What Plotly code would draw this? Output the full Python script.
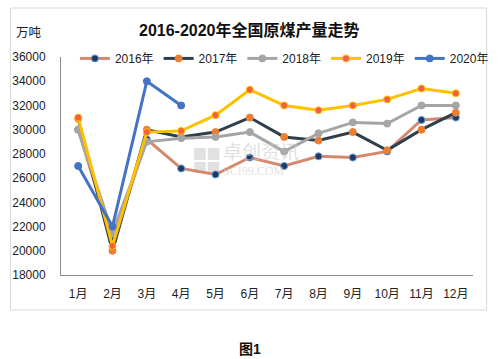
import plotly.graph_objects as go

months = ["1月", "2月", "3月", "4月", "5月", "6月", "7月", "8月", "9月", "10月", "11月", "12月"]
y2016 = [30000, 20800, 29200, 26800, 26300, 27700, 27000, 27800, 27700, 28200, 30800, 31000]
y2017 = [30900, 20000, 30000, 29400, 29800, 31000, 29400, 29100, 29800, 28300, 30000, 31400]
y2018 = [30000, 21500, 29000, 29300, 29400, 29800, 28200, 29700, 30600, 30500, 32000, 32000]
y2019 = [31000, 20400, 29800, 29900, 31200, 33300, 32000, 31600, 32000, 32500, 33400, 33000]
y2020 = [27000, 22000, 34000, 32000]

font_family = "Liberation Sans, Noto Sans CJK SC, sans-serif"

series = [
    ("2016年", y2016, "#D4896E", "#203864", "#5B9BD5"),
    ("2017年", y2017, "#2F3F4C", "#ED7D31", "#ED7D31"),
    ("2018年", y2018, "#A5A5A5", "#A5A5A5", "#A5A5A5"),
    ("2019年", y2019, "#FFC000", "#F4603C", "#FFC000"),
    ("2020年", y2020, "#4472C4", "#4472C4", "#4472C4"),
]

L, R, T, B = 58, 482, 57, 275
PW, PH = R - L, B - T


def px(x):
    return (x - L) / PW


def py(y):
    return (B - y) / PH


fig = go.Figure()
for name, vals, lc, mc, ec in series:
    fig.add_trace(go.Scatter(
        x=months[:len(vals)], y=vals, name=name, mode="lines+markers",
        line=dict(color=lc, width=3),
        marker=dict(color=mc, size=7, line=dict(color=ec, width=1)),
    ))

wm = "rgba(200,200,200,0.55)"
logo = []
for (x0, y0, x1, y1) in [(195, 148, 207, 160), (209, 148, 221, 160),
                         (195, 162, 207, 173), (209, 162, 221, 173)]:
    logo.append(dict(type="rect", xref="paper", yref="paper",
                     x0=px(x0), x1=px(x1), y0=py(y1), y1=py(y0),
                     line=dict(width=0), fillcolor=wm, layer="below"))

fig.update_layout(
    width=501, height=359,
    margin=dict(l=L, r=501 - R, t=T, b=359 - B),
    paper_bgcolor="white", plot_bgcolor="white",
    font=dict(family=font_family, size=12, color="#333333"),
    showlegend=True,
    legend=dict(orientation="h", x=px(283), xanchor="center", y=1.06, yanchor="top",
                font=dict(size=12, color="#222222"), itemwidth=30,
                bgcolor="rgba(0,0,0,0)", tracegroupgap=0),
    xaxis=dict(type="category", categoryorder="array", categoryarray=months,
               range=[-0.5, 11.5], showline=True, linecolor="#8C8C8C", linewidth=1,
               showgrid=False, ticks="", tickfont=dict(size=12, color="#222222"),
               zeroline=False, ticklabelstandoff=8),
    yaxis=dict(range=[18000, 36000], dtick=2000, showline=True, linecolor="#8C8C8C",
               linewidth=1, showgrid=False, ticks="", ticklen=0,
               tickfont=dict(size=12, color="#222222"), zeroline=False,
               tickformat="d", ticklabelstandoff=12),
    shapes=[dict(type="rect", xref="paper", yref="paper",
                 x0=px(6), x1=px(496), y0=py(310), y1=py(8),
                 line=dict(color="#D9D9D9", width=1), fillcolor="rgba(0,0,0,0)",
                 layer="below")] + logo,
    annotations=[
        dict(text="<b>2016-2020年全国原煤产量走势</b>", xref="paper", yref="paper",
             x=px(252), y=py(30), xanchor="center", yanchor="middle",
             showarrow=False, font=dict(size=16, color="#111111")),
        dict(text="万吨", xref="paper", yref="paper",
             x=px(10), y=py(33), xanchor="left", yanchor="middle",
             showarrow=False, font=dict(size=12.5, color="#222222")),
        dict(text="<b>图1</b>", xref="paper", yref="paper",
             x=px(252), y=py(349), xanchor="center", yanchor="middle",
             showarrow=False, font=dict(size=14, color="#111111")),
        dict(text="<span style='font-size:19px'>卓创资讯</span><br>SCI99.COM",
             xref="paper", yref="paper",
             x=px(223), y=py(160), xanchor="left", yanchor="middle", align="left",
             showarrow=False, font=dict(size=12, color=wm,
                                        family="Liberation Serif, Noto Sans CJK SC, serif")),
    ],
)

fig.write_html("out.html", config={"displayModeBar": False},
               post_script="document.body.style.margin='0';")
